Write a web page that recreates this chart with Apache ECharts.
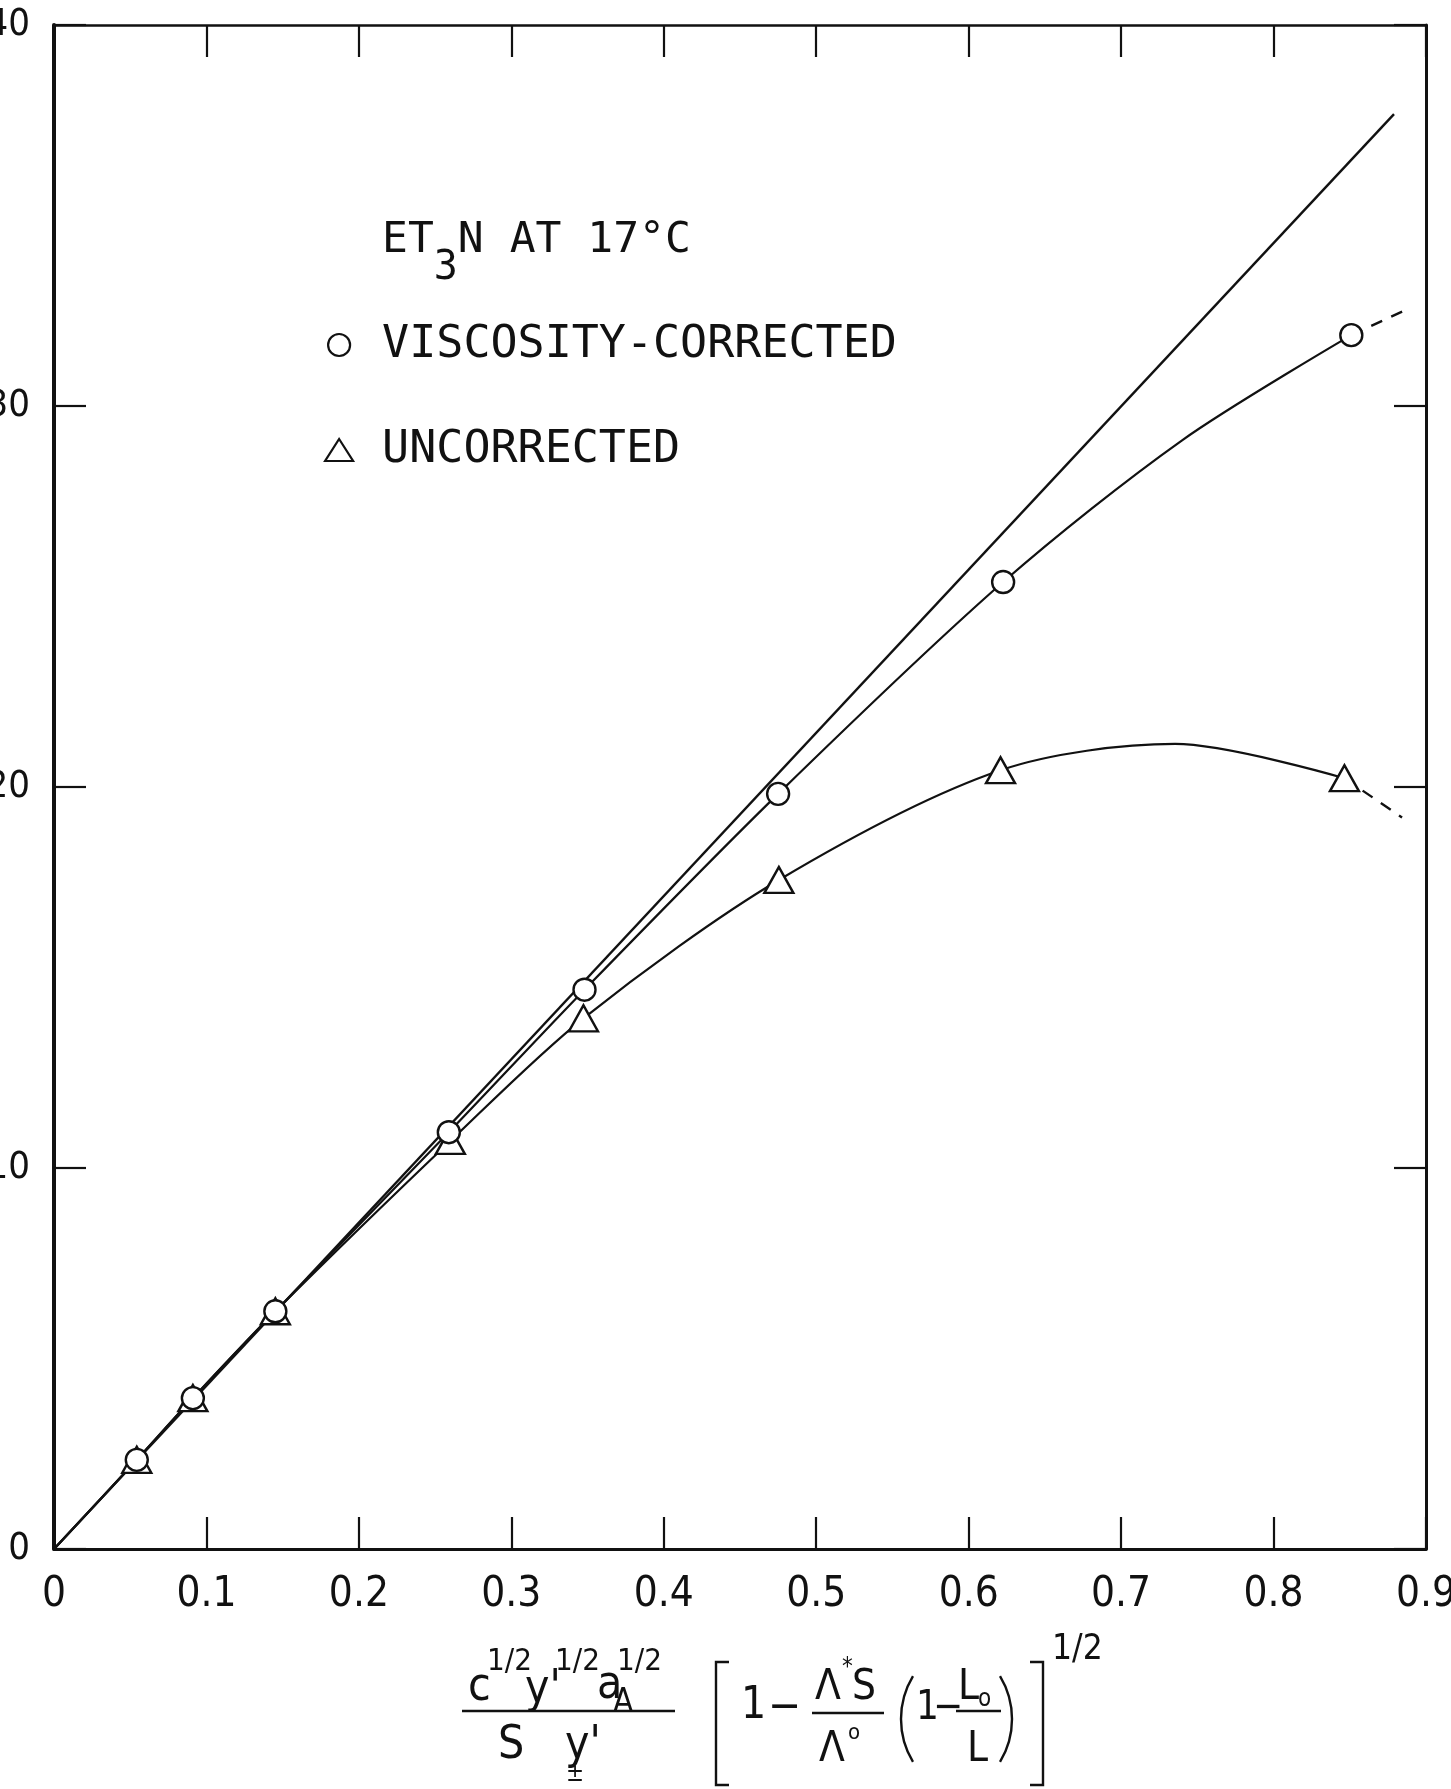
<!DOCTYPE html>
<html>
<head>
<meta charset="utf-8">
<script src="https://cdn.jsdelivr.net/npm/echarts@6/dist/echarts.min.js"></script>
<style>
  html, body { margin: 0; padding: 0; background: #fff; }
  #chart { width: 1451px; height: 1789px; }
</style>
</head>
<body>
<div id="chart"></div>
<script>
// Axis tick labels
const xTickLabels = ['0', '0.1', '0.2', '0.3', '0.4', '0.5', '0.6', '0.7', '0.8', '0.9'];
const yTickLabels = ['0', '10', '20', '30', '40'];

// Measured points, Et3N at 17 °C
const correctedPoints = [
  [0.0543, 2.34], [0.0911, 3.96], [0.1452, 6.24], [0.259, 10.94],
  [0.348, 14.68], [0.475, 19.82], [0.6226, 25.38], [0.851, 31.86]
];
const uncorrectedPoints = [
  [0.0543, 2.34], [0.0911, 3.96], [0.1452, 6.24], [0.260, 10.71],
  [0.3473, 13.93], [0.4755, 17.56], [0.6209, 20.44], [0.8465, 20.23]
];

// Hand-drawn curves through the points (with one traced point on each bend)
const limitingLine = [[0, 0], [0.879, 37.66]];
const correctedCurve = [[0, 0]].concat(correctedPoints.slice(0, 7), [[0.74, 29.1]], correctedPoints.slice(7));
const correctedTail = [[0.851, 31.86], [0.8855, 32.5]];
const uncorrectedCurve = [[0, 0]].concat(uncorrectedPoints.slice(0, 7), [[0.7354, 21.13]], uncorrectedPoints.slice(7));
const uncorrectedTail = [[0.8465, 20.23], [0.8843, 19.2]];

const INK = '#111';
const MONO = "'DejaVu Sans Mono', monospace";
const NARROW = "'Liberation Sans Narrow', 'DejaVu Sans Condensed', 'DejaVu Sans', sans-serif";

function txt(s, x, y, size) {
  return { type: 'text', x: x, y: y, silent: true,
    style: { text: s, fontSize: size, fontFamily: NARROW, fill: INK,
      textVerticalAlign: 'middle', verticalAlign: 'middle' } };
}
function stroke(points) {
  return { type: 'polyline', silent: true, shape: { points: points },
    style: { stroke: INK, lineWidth: 2.4, fill: null } };
}
function paren(cx, cy, r, a0, a1) {
  return { type: 'arc', silent: true, shape: { cx: cx, cy: cy, r: r, startAngle: a0, endAngle: a1, clockwise: true },
    style: { stroke: INK, lineWidth: 2.4, fill: null } };
}

// Abscissa expression
const formula = [
  txt('c', 468, 1688, 46),
  txt('1/2', 487, 1662, 31),
  txt("y'", 525, 1690, 46),
  txt('1/2', 555, 1662, 31),
  txt('a', 597, 1686, 46),
  txt('A', 613, 1703, 33),
  txt('1/2', 617, 1662, 31),
  stroke([[462, 1711], [675, 1711]]),
  txt('S', 498, 1746, 46),
  txt("y'", 565, 1746, 46),
  txt('±', 566, 1775, 24),
  stroke([[729, 1662], [716, 1662], [716, 1785], [729, 1785]]),
  txt('1', 741, 1707, 44),
  txt('−', 768, 1709, 44),
  txt('Λ', 815, 1688, 42),
  txt('*', 842, 1668, 24),
  txt('S', 852, 1688, 42),
  stroke([[812, 1713], [884, 1713]]),
  txt('Λ', 819, 1750, 42),
  txt('o', 848, 1733, 22),
  paren(984, 1719, 83, Math.PI - 0.544, Math.PI + 0.544),
  txt('1', 916, 1709, 40),
  txt('−', 933, 1709, 40),
  txt('L', 958, 1688, 42),
  txt('o', 978, 1700, 24),
  stroke([[956, 1711], [1001, 1711]]),
  txt('L', 967, 1750, 42),
  paren(929, 1719, 83, -0.544, 0.544),
  stroke([[1030, 1662], [1043, 1662], [1043, 1785], [1030, 1785]]),
  txt('1/2', 1052, 1650, 35)
];

const chart = echarts.init(document.getElementById('chart'), null, { renderer: 'canvas' });

const tickInside = { show: true, inside: true, length: 32, lineStyle: { color: INK, width: 2.2 } };

chart.setOption({
  animation: false,
  backgroundColor: '#fff',
  title: {
    left: 377, top: 214,
    text: '{m|ET}{s|3}{m|N AT 17°C}',
    textStyle: {
      fontWeight: 'normal',
      rich: {
        m: { fontFamily: MONO, fontSize: 43, fontWeight: 'normal', color: INK, lineHeight: 46, verticalAlign: 'top' },
        s: { fontFamily: MONO, fontSize: 40, fontWeight: 'normal', color: INK, lineHeight: 46, padding: [30, 0, 0, 0], verticalAlign: 'top' }
      }
    }
  },
  legend: {
    orient: 'vertical', left: 319, top: 315,
    itemWidth: 28, itemHeight: 22, itemGap: 55,
    data: [
      { name: 'VISCOSITY-CORRECTED', icon: 'circle' },
      { name: 'UNCORRECTED', icon: 'triangle' }
    ],
    itemStyle: { color: '#fff', borderColor: INK, borderWidth: 2.2 },
    textStyle: { fontFamily: MONO, fontSize: 45, color: INK, lineHeight: 50, padding: [0, 0, 0, 24] }
  },
  grid: { left: 54, right: 25, top: 25, bottom: 240, containLabel: false, outerBoundsMode: 'none' },
  xAxis: [
    {
      type: 'value', position: 'bottom', min: 0, max: 0.9, interval: 0.1,
      axisLine: { show: true, onZero: false, lineStyle: { color: INK, width: 3 } },
      axisTick: tickInside,
      splitLine: { show: false },
      axisLabel: {
        margin: 25, fontFamily: NARROW, fontSize: 42, color: INK,
        formatter: v => xTickLabels[Math.round(v * 10)]
      }
    },
    {
      type: 'value', position: 'top', min: 0, max: 0.9, interval: 0.1,
      axisLine: { show: true, onZero: false, lineStyle: { color: INK, width: 2.5 } },
      axisTick: tickInside,
      splitLine: { show: false },
      axisLabel: { show: false }
    }
  ],
  yAxis: [
    {
      type: 'value', position: 'left', min: 0, max: 40, interval: 10,
      axisLine: { show: true, onZero: false, lineStyle: { color: INK, width: 4 } },
      axisTick: tickInside,
      splitLine: { show: false },
      axisLabel: {
        margin: 24, fontFamily: NARROW, fontSize: 38, color: INK,
        formatter: v => yTickLabels[Math.round(v / 10)]
      }
    },
    {
      type: 'value', position: 'right', min: 0, max: 40, interval: 10,
      axisLine: { show: true, onZero: false, lineStyle: { color: INK, width: 3 } },
      axisTick: tickInside,
      splitLine: { show: false },
      axisLabel: { show: false }
    }
  ],
  series: [
    {
      name: 'limiting line', type: 'line', data: limitingLine, showSymbol: false, silent: true,
      lineStyle: { color: INK, width: 2.4 }, z: 2
    },
    {
      name: 'corrected curve', type: 'line', data: correctedCurve, showSymbol: false, smooth: 0.3, silent: true,
      lineStyle: { color: INK, width: 2.2 }, z: 2
    },
    {
      name: 'corrected tail', type: 'line', data: correctedTail, showSymbol: false, silent: true,
      lineStyle: { color: INK, width: 2.4, type: [12, 10] }, z: 2
    },
    {
      name: 'uncorrected curve', type: 'line', data: uncorrectedCurve, showSymbol: false, smooth: 0.3, silent: true,
      lineStyle: { color: INK, width: 2.2 }, z: 2
    },
    {
      name: 'uncorrected tail', type: 'line', data: uncorrectedTail, showSymbol: false, silent: true,
      lineStyle: { color: INK, width: 2.4, type: [12, 10] }, z: 2
    },
    {
      name: 'UNCORRECTED', type: 'scatter', data: uncorrectedPoints,
      symbol: 'triangle', symbolSize: [29, 26],
      itemStyle: { color: '#fff', borderColor: INK, borderWidth: 2.4, opacity: 1 }, z: 3
    },
    {
      name: 'VISCOSITY-CORRECTED', type: 'scatter', data: correctedPoints,
      symbol: 'circle', symbolSize: 22,
      itemStyle: { color: '#fff', borderColor: INK, borderWidth: 2.4, opacity: 1 }, z: 4
    }
  ],
  graphic: formula
});
</script>
</body>
</html>
